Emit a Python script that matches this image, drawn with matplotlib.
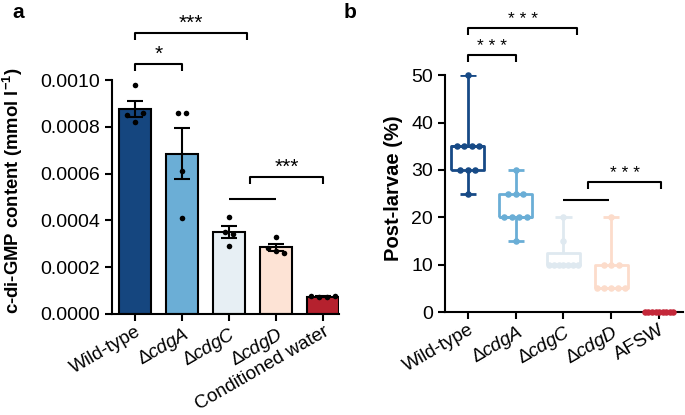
import numpy as np
import matplotlib
matplotlib.use("Agg")
import matplotlib.pyplot as plt

plt.rcParams['font.family'] = ['Liberation Sans', 'DejaVu Sans']
plt.rcParams['mathtext.fontset'] = 'custom'
plt.rcParams['mathtext.rm'] = 'Liberation Sans'
plt.rcParams['mathtext.it'] = 'Liberation Sans:italic'
plt.rcParams['mathtext.bf'] = 'Liberation Sans:bold'

# ---------------- data ----------------
cats_a = ["Wild-type", "ΔcdgA", "ΔcdgC", "ΔcdgD", "Conditioned water"]
vals_wt_a = [0.00098, 0.00085, 0.00082, 0.00086]
vals_cdgA_a = [0.00086, 0.00086, 0.00061, 0.00041]
vals_cdgC_a = [0.000415, 0.00035, 0.00034, 0.00029]
vals_cdgD_a = [0.00033, 0.00028, 0.00027, 0.00026]
vals_cw_a = [0.000075, 0.000073, 0.000072, 0.000078]
yticks_a = [0.0, 0.0002, 0.0004, 0.0006, 0.0008, 0.0010]

cats_b = ["Wild-type", "ΔcdgA", "ΔcdgC", "ΔcdgD", "AFSW"]
vals_wt_b = [50, 35, 35, 35, 35, 30, 30, 30, 25]
vals_cdgA_b = [30, 25, 25, 25, 20, 20, 20, 20, 15]
vals_cdgC_b = [20, 15, 10, 10, 10, 10, 10, 10, 10]
vals_cdgD_b = [20, 10, 10, 10, 5, 5, 5, 5, 5]
vals_afsw_b = [0, 0, 0, 0, 0, 0, 0, 0, 0]
yticks_b = [0, 10, 20, 30, 40, 50]

colors_a = ["#15467f", "#6baed6", "#e7eff4", "#fde3d5", "#b5212e"]
colors_b = ["#174a86", "#6aaed6", "#dfe9f0", "#fcdccb", "#c4283a"]

groups_a = [vals_wt_a, vals_cdgA_a, vals_cdgC_a, vals_cdgD_a, vals_cw_a]
groups_b = [vals_wt_b, vals_cdgA_b, vals_cdgC_b, vals_cdgD_b, vals_afsw_b]


def label_text(c):
    if c.startswith("Δ"):
        return "\u2206$\\it{" + c[1:] + "}$"
    return c


def swarm(vals, tol, spacing, maxspan):
    """Return horizontal offsets: values within tol form a row, centred."""
    vals = np.asarray(vals, float)
    order = np.argsort(vals, kind="stable")
    offs = np.zeros(len(vals))
    groups = []
    cur = [order[0]]
    for i in order[1:]:
        if abs(vals[i] - vals[cur[-1]]) <= tol:
            cur.append(i)
        else:
            groups.append(cur)
            cur = [i]
    groups.append(cur)
    for g in groups:
        g = sorted(g)
        k = len(g)
        if k == 1:
            continue
        sp = min(spacing, maxspan / (k - 1))
        for j, idx in enumerate(g):
            offs[idx] = (j - (k - 1) / 2) * sp
    return offs


fig = plt.figure(figsize=(6.85, 4.15), dpi=100)

FS_TICK = 14
LW = 1.5

# ---------------- panel a ----------------
axa = fig.add_axes([0.1635, 0.2434, 0.3315, 0.5636])
x = np.arange(len(cats_a))
means = [np.mean(g) for g in groups_a]
sems = [np.std(g, ddof=1) / np.sqrt(len(g)) for g in groups_a]
axa.bar(x, means, width=0.68, color=colors_a, edgecolor="black", linewidth=LW, zorder=2)
axa.errorbar(x, means, yerr=sems, fmt="none", ecolor="black", elinewidth=LW,
             capsize=6, capthick=LW, zorder=3)
for xi, g in zip(x, groups_a):
    offs = swarm(g, 0.00004, 0.17, 0.55)
    axa.scatter(xi + offs, g, s=16, color="black", zorder=4, linewidths=0)
axa.set_xlim(-0.49, 4.34)
axa.set_ylim(0, 0.0010)
axa.set_yticks(yticks_a)
axa.set_yticklabels([f"{v:.4f}" for v in yticks_a])
axa.set_xticks(x)
axa.set_xticklabels([label_text(c) for c in cats_a], rotation=30, ha="right",
                    rotation_mode="anchor")
axa.set_ylabel("c-di-GMP content (mmol l$^{\\mathbf{-1}}$)", fontsize=13.3,
               fontweight="bold")
axa.yaxis.set_label_coords(-(112 - 25) / 227, (314 - 191) / 234)

# ---------------- panel b ----------------
axb = fig.add_axes([0.6496, 0.248, 0.3474, 0.571])
xb = np.arange(len(cats_b))
stats = []
for g in groups_b:
    arr = np.asarray(g, float)
    q1, med, q3 = np.percentile(arr, [25, 50, 75], method="weibull")
    stats.append(dict(med=med, q1=q1, q3=q3, whislo=arr.min(), whishi=arr.max(), fliers=[]))
bp = axb.bxp(stats, positions=xb, widths=0.69, capwidths=0.34, showfliers=False,
             patch_artist=False, manage_ticks=False)
for i, c in enumerate(colors_b):
    for art in [bp["boxes"][i], bp["medians"][i], bp["whiskers"][2 * i],
                bp["whiskers"][2 * i + 1], bp["caps"][2 * i], bp["caps"][2 * i + 1]]:
        art.set_color(c)
        art.set_linewidth(2.0)
        art.set_solid_capstyle("butt")
for xi, g, c in zip(xb, groups_b, colors_b):
    offs = swarm(g, 0.5, 0.157, 0.59)
    axb.scatter(xi + offs, g, s=22, color=c, zorder=4, linewidths=0, clip_on=False)
axb.set_xlim(-0.48, 4.5)
axb.set_ylim(0, 50)
axb.set_yticks(yticks_b)
axb.set_xticks(xb)
axb.set_xticklabels([label_text(c) for c in cats_b], rotation=30, ha="right",
                    rotation_mode="anchor")
axb.set_ylabel("Post-larvae (%)", fontsize=14.5, fontweight="bold")
axb.yaxis.set_label_coords(-(445 - 403) / 238, (312 - 188) / 237)

for ax in (axa, axb):
    for s in ("top", "right"):
        ax.spines[s].set_visible(False)
    for s in ("left", "bottom"):
        ax.spines[s].set_linewidth(LW)
    ax.tick_params(axis="both", labelsize=FS_TICK, width=LW, length=5, direction="out")
    ax.tick_params(axis="x", pad=1.5, labelsize=13.6)


def bracket(ax, x1, x2, y, h, text, ty_pad, fs):
    ax.plot([x1, x1, x2, x2], [y - h, y, y, y - h], color="black", lw=LW,
            clip_on=False, solid_capstyle="butt")
    if text:
        ax.text((x1 + x2) / 2, y + ty_pad, text, ha="center", va="bottom",
                fontsize=fs, clip_on=False)


def hline(ax, x1, x2, y):
    ax.plot([x1, x2], [y, y], color="black", lw=LW, clip_on=False, solid_capstyle="butt")


# brackets panel a
bracket(axa, 0.0, 2.38, 0.00120, 0.00003, "***", 0.0, 15)
bracket(axa, 0.0, 1.0, 0.00107, 0.00003, "*", 0.0, 15)
bracket(axa, 2.45, 4.0, 0.000585, 0.00003, "***", 0.0, 15)
hline(axa, 2.0, 3.0, 0.00049)

# brackets panel b
bracket(axb, 0.0, 2.29, 59.9, 1.5, "* * *", 0.3, 12.5)
bracket(axb, 0.0, 1.0, 54.2, 1.5, "* * *", 0.3, 12.5)
bracket(axb, 2.52, 4.05, 27.4, 1.5, "* * *", 0.3, 12.5)
hline(axb, 1.99, 2.96, 23.6)

fig.text(18 / 685, 1 - 12 / 415, "a", fontsize=15, fontweight="bold", ha="center", va="center")
fig.text(350 / 685, 1 - 12 / 415, "b", fontsize=15, fontweight="bold", ha="center", va="center")

fig.savefig("out.png", dpi=100)
